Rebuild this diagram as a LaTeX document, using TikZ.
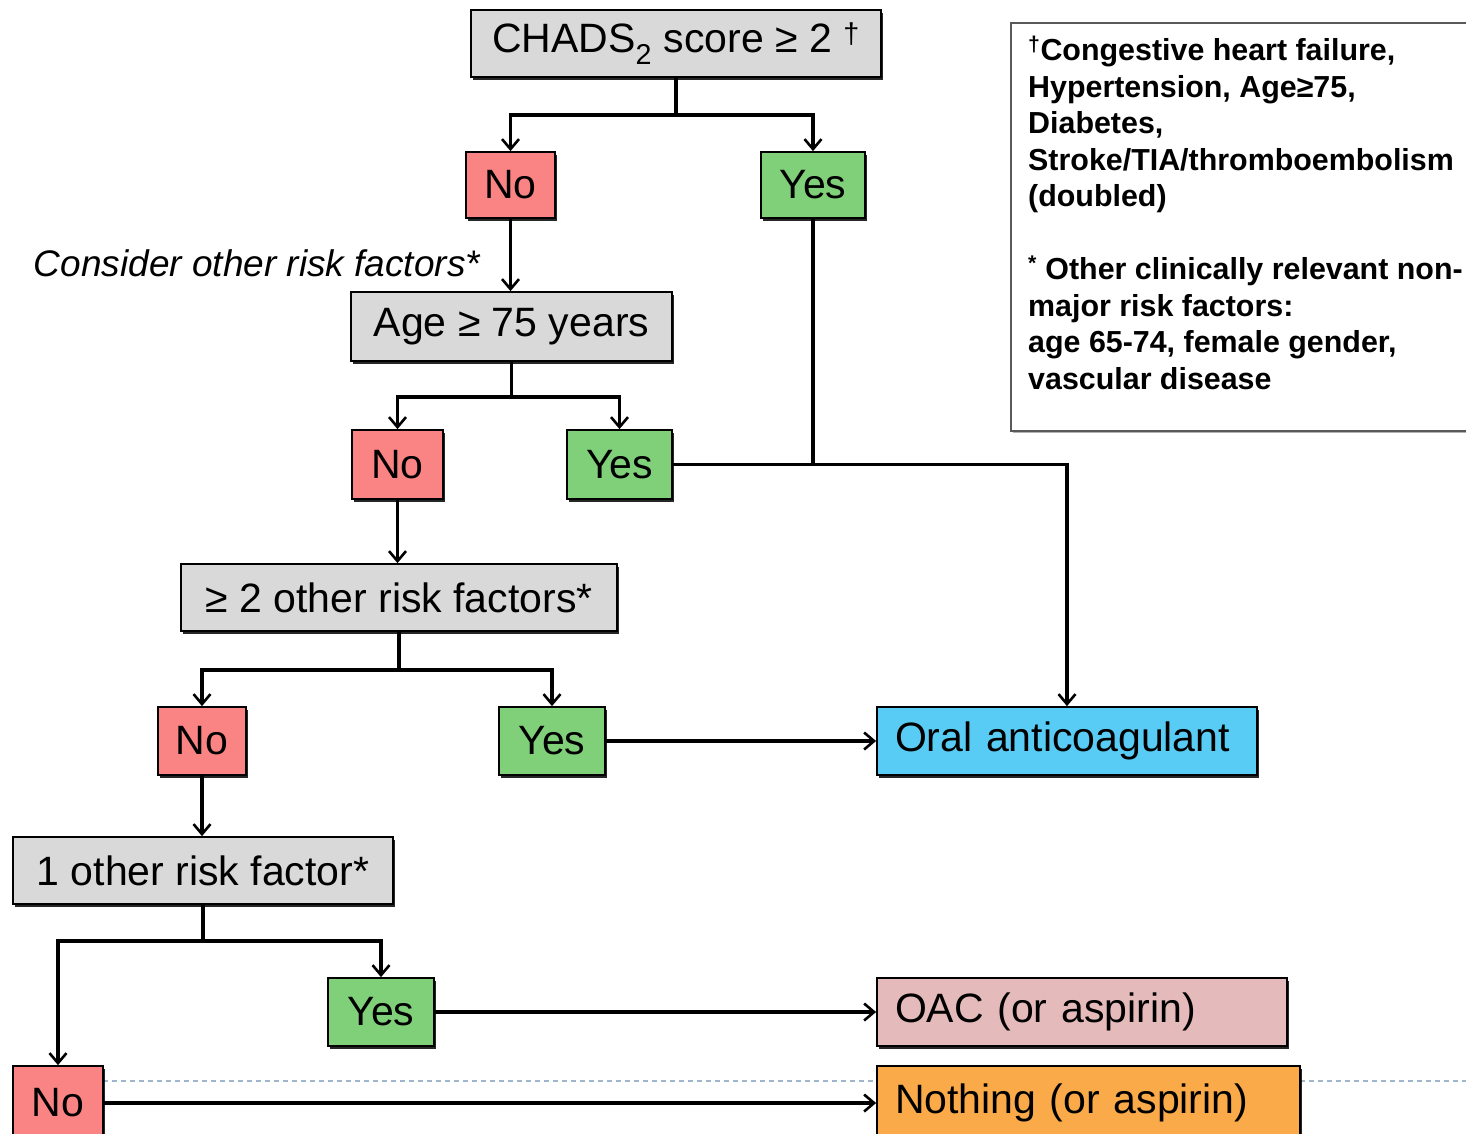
\documentclass[tikz,border=0pt]{standalone}
\usepackage{fontspec}
\setmainfont{Liberation Sans}
\usetikzlibrary{arrows.meta}
\usetikzlibrary{shadows}

\definecolor{boxgray}{RGB}{217,217,217}
\definecolor{nored}{RGB}{250,132,132}
\definecolor{yesgreen}{RGB}{128,208,122}
\definecolor{oralblue}{RGB}{88,204,245}
\definecolor{oacpink}{RGB}{229,186,186}
\definecolor{nothingorange}{RGB}{250,170,72}
\definecolor{guideblue}{RGB}{160,182,204}

\tikzset{
  box/.style={draw=black, line width=1.8pt, inner sep=0pt, minimum height=67pt,
    font=\fontsize{41}{49}\selectfont,
    drop shadow={shadow xshift=2pt,shadow yshift=-2.5pt,fill=black,opacity=0.85}},
  qbox/.style={box, fill=boxgray},
  nobox/.style={box, fill=nored},
  yesbox/.style={box, fill=yesgreen},
  outbox/.style={box, align=left, text width=#1-36pt, minimum width=#1},
  conn/.style={line width=3.6pt},
  arr/.style={conn, -{Straight Barb[length=10pt,width=17pt,line width=2.6pt]}}
}

\begin{document}
\begin{tikzpicture}[x=1pt,y=-1pt]
\clip (0,0) rectangle (1466,1133);
\useasboundingbox (0,0) rectangle (1466,1133);
\fill[white] (0,0) rectangle (1466,1133);

% legend
\node (legend) [draw=black!65, line width=2pt, anchor=north west, minimum width=480pt, minimum height=408pt,
  drop shadow={shadow xshift=2pt,shadow yshift=-2pt,fill=black!60}, fill=white] at (1010,22) {};
\node (legtext) [anchor=north west, align=left, inner sep=0pt, font=\bfseries\fontsize{30.4}{36.5}\selectfont]
  at ([shift={(18,14)}]legend.north west)
  {\textsuperscript{†}Congestive heart failure,\\
   Hypertension, Age≥75,\\
   Diabetes,\\
   Stroke/TIA/thromboembolism\\
   (doubled)\\[36.5pt]
   \textsuperscript{*} Other clinically relevant non-\\
   major risk factors:\\
   age 65-74, female gender,\\
   vascular disease};

% questions
\node (chads) [qbox, minimum width=410pt] at (676,43.5) {CHADS\textsubscript{2} score ≥ 2 \textsuperscript{†}};
\node (age) [qbox, minimum width=321pt, minimum height=69pt] at (511.5,326.5) {Age ≥ 75 years};
\node (ge2) [qbox, minimum width=436pt] at (399,597.5) {≥ 2 other risk factors*};
\node (one) [qbox, minimum width=380pt] at (203,870.5) {1 other risk factor*};

% answers
\node (noA) [nobox, minimum width=89pt, minimum height=66pt] at (510.5,185) {No};
\node (yesA) [yesbox, minimum width=104pt, minimum height=66pt] at (813,185) {Yes};
\node (noB) [nobox, minimum width=91pt, minimum height=69pt] at (397.5,464.5) {No};
\node (yesB) [yesbox, minimum width=105pt, minimum height=69pt] at (619.5,464.5) {Yes};
\node (noC) [nobox, minimum width=88pt, minimum height=68pt] at (202,741) {No};
\node (yesC) [yesbox, minimum width=106pt, minimum height=68pt] at (552,741) {Yes};
\node (yesD) [yesbox, minimum width=106pt, minimum height=68pt] at (381,1012) {Yes};

% guide line at the bottom
\draw[guideblue, line width=1.2pt, dash pattern=on 5pt off 4pt] (103,1081) -- (1466,1081);

\node (noD) [nobox, minimum width=90pt, minimum height=74pt] at (58,1103) {No};

% outcomes
\node (oac) [outbox=380pt, fill=oralblue, minimum height=68pt] at (1067,741) {Oral anticoagulant};
\node (oacasp) [outbox=410pt, fill=oacpink, minimum height=68pt] at (1082,1012) {OAC (or aspirin)};
\node (nothing) [outbox=423pt, fill=nothingorange, minimum height=74pt] at (1088.5,1103) {Nothing (or aspirin)};

\node (consider) [font=\itshape\fontsize{37}{44}\selectfont, inner sep=0pt] at (257,263) {Consider other risk factors*};

% branch points
\coordinate (jA) at (676,115);
\coordinate (jB) at (511.5,397);
\coordinate (jC) at (399,670);
\coordinate (jD) at (203,941);

% connectors
\draw[conn] (chads) -- (jA);
\draw[arr] (jA) -| (noA);
\draw[arr] (jA) -| (yesA);
\draw[arr] (noA) -- (noA |- age.north);
\draw[conn] (age) -- (jB);
\draw[arr] (jB) -| (noB);
\draw[arr] (jB) -| (yesB);
\draw[conn] (yesA) -- (yesA |- yesB);
\draw[arr] (yesB) -| (oac);
\draw[arr] (noB) -- (noB |- ge2.north);
\draw[conn] (ge2) -- (jC);
\draw[arr] (jC) -| (noC);
\draw[arr] (jC) -| (yesC);
\draw[arr] (yesC) -- (oac);
\draw[arr] (noC) -- (noC |- one.north);
\draw[conn] (one) -- (jD);
\draw[arr] (jD) -| (yesD);
\draw[arr] (jD) -| (noD);
\draw[arr] (yesD) -- (yesD -| oacasp.west);
\draw[arr] (noD) -- (noD -| nothing.west);

\end{tikzpicture}
\end{document}
